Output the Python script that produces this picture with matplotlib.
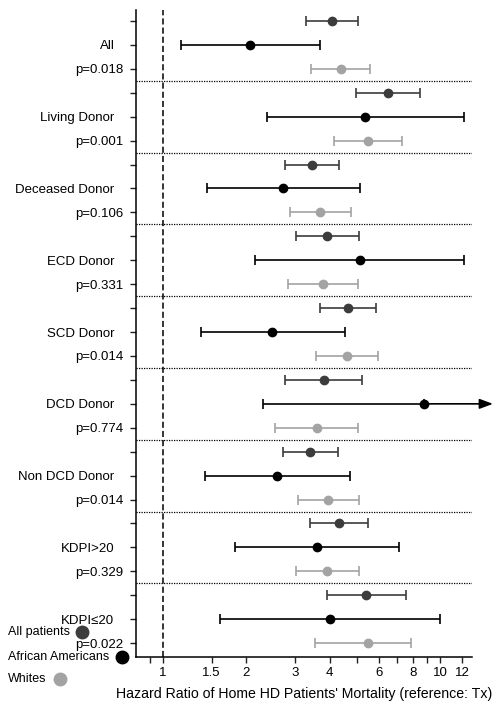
import matplotlib.pyplot as plt
import matplotlib.transforms as mtransforms
import numpy as np

plt.rcParams['font.family'] = ['Liberation Sans', 'DejaVu Sans']

GROUPS = ['All', 'Living Donor', 'Deceased Donor', 'ECD Donor', 'SCD Donor',
          'DCD Donor', 'Non DCD Donor', 'KDPI>20', 'KDPI\u226420']
PVALS = ['p=0.018', 'p=0.001', 'p=0.106', 'p=0.331', 'p=0.014',
         'p=0.774', 'p=0.014', 'p=0.329', 'p=0.022']

# hazard ratio, lower CI, upper CI for each group
ALL_HR = [4.06, 6.48, 3.46, 3.92, 4.67, 3.81, 3.40, 4.32, 5.42]
ALL_LO = [3.27, 4.96, 2.76, 3.01, 3.70, 2.76, 2.71, 3.39, 3.90]
ALL_HI = [5.05, 8.47, 4.32, 5.09, 5.87, 5.24, 4.28, 5.48, 7.52]

AA_HR = [2.07, 5.37, 2.72, 5.13, 2.48, 8.75, 2.59, 3.59, 4.00]
AA_LO = [1.16, 2.37, 1.44, 2.15, 1.37, 2.30, 1.42, 1.82, 1.61]
AA_HI = [3.69, 12.2, 5.13, 12.2, 4.53, 15.5, 4.72, 7.09, 10.0]

WH_HR = [4.39, 5.50, 3.70, 3.78, 4.62, 3.59, 3.95, 3.92, 5.50]
WH_LO = [3.43, 4.14, 2.88, 2.83, 3.58, 2.54, 3.06, 3.01, 3.55]
WH_HI = [5.60, 7.29, 4.76, 5.05, 5.99, 5.05, 5.11, 5.10, 7.86]

XTICKS = [0.9, 1, 1.5, 2, 3, 4, 5, 6, 7, 8, 9, 10, 12]
XTICKLABELS = ['', '1', '1.5', '2', '3', '4', '', '6', '', '8', '', '10', '12']

C_ALL = '#3c3c3c'
C_AA = '#000000'
C_WH = '#a3a3a3'

fig = plt.figure(figsize=(5.04, 7.08), dpi=100)
ax = fig.add_axes([0.2698, 0.072, 0.936 - 0.2698, 0.9859 - 0.072])

n = len(GROUPS)
nrows = 3 * n
y_all = np.array([nrows - 1 - 3 * g for g in range(n)])
y_aa = y_all - 1
y_wh = y_all - 2

def draw(hr, lo, hi, y, c, skip=None):
    hr = np.array(hr); lo = np.array(lo); hi = np.array(hi)
    idx = [i for i in range(len(hr)) if i != skip]
    ax.errorbar(hr[idx], y[idx], xerr=[hr[idx] - lo[idx], hi[idx] - hr[idx]],
                fmt='o', color=c, ecolor=c, ms=6, capsize=3.5, elinewidth=1.2,
                capthick=1.2, zorder=3)

draw(ALL_HR, ALL_LO, ALL_HI, y_all, C_ALL)
draw(WH_HR, WH_LO, WH_HI, y_wh, C_WH)
# DCD donor AA upper CI runs off the chart -> arrow
k = GROUPS.index('DCD Donor')
draw(AA_HR, AA_LO, AA_HI, y_aa, C_AA, skip=k)
ax.errorbar([AA_HR[k]], [y_aa[k]], xerr=[[AA_HR[k] - AA_LO[k]], [0]],
            fmt='o', color=C_AA, ms=6, capsize=3.5, elinewidth=1.2, capthick=1.2, zorder=3)
ax.annotate('', xy=(AA_HI[k], y_aa[k]), xytext=(AA_HR[k], y_aa[k]),
            annotation_clip=False,
            arrowprops=dict(arrowstyle='-|>,head_length=0.8,head_width=0.3',
                            mutation_scale=10, color=C_AA, lw=1.2,
                            shrinkA=0, shrinkB=0))

# reference line and group separators
ax.axvline(1, color='black', ls=(0, (4, 2)), lw=1.1, zorder=1)
for g in range(n - 1):
    ax.axhline(y_wh[g] - 0.5, color='black', ls=(0, (1, 1)), lw=0.9, zorder=1)

ax.set_xscale('log')
ax.set_xlim(0.8, 13.0)
ax.set_ylim(-0.58, nrows - 1 + 0.46)
ax.set_xticks(XTICKS)
ax.set_xticklabels(XTICKLABELS)
ax.minorticks_off()

yt = list(y_all) + list(y_aa) + list(y_wh)
ylab = [''] * (2 * n) + PVALS
ax.set_yticks(yt)
ax.set_yticklabels(ylab)

# group names sit a little further left than the p-values
trans = ax.get_yaxis_transform() + mtransforms.ScaledTranslation(-15.5 / 72, 0, fig.dpi_scale_trans)
for name, yy in zip(GROUPS, y_aa):
    ax.text(0, yy, name, transform=trans, ha='right', va='center_baseline', fontsize=9.5)

ax.tick_params(axis='both', labelsize=9.5, length=4, width=1, color='#222222')
ax.tick_params(axis='y', pad=5)
ax.tick_params(axis='x', pad=3)
ax.spines['top'].set_visible(False)
ax.spines['right'].set_visible(False)
for s in ['left', 'bottom']:
    ax.spines[s].set_linewidth(1.1)

ax.set_xlabel("Hazard Ratio of Home HD Patients' Mortality (reference: Tx)",
              fontsize=10.2, labelpad=6)

# legend: label followed by its marker
leg = [('All patients', C_ALL, 8, 1 - 632 / 708, 82),
       ('African Americans', C_AA, 8, 1 - 657 / 708, 122),
       ('Whites', C_WH, 8, 1 - 679 / 708, 60)]
for txt, c, x0, yy, xm in leg:
    fig.text(x0 / 504, yy, txt, fontsize=9, va='center', ha='left')
    fig.lines.append(plt.Line2D([xm / 504], [yy], marker='o', ms=9, color=c,
                                ls='', transform=fig.transFigure))

fig.savefig('out.png', dpi=100)
